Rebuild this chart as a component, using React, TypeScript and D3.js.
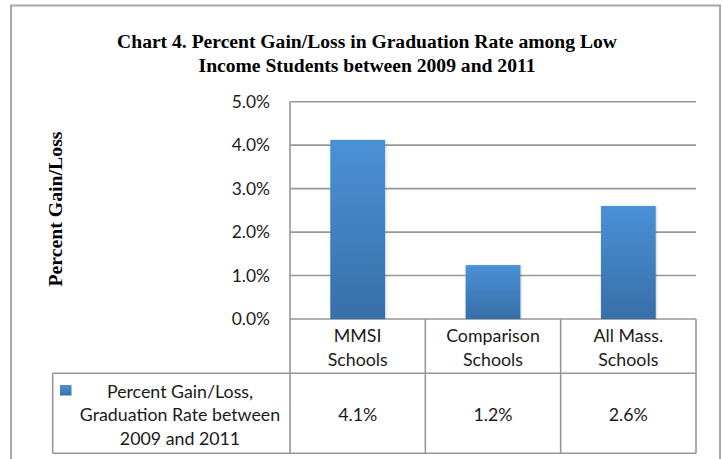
import React from "react";
import * as d3 from "d3";

const categories: string[][] = [
  ["MMSI", "Schools"],
  ["Comparison", "Schools"],
  ["All Mass.", "Schools"],
];
const values: number[] = [4.12, 1.24, 2.6];
const yTicks: number[] = [0, 1, 2, 3, 4, 5];
const titleLines: string[] = [
  "Chart 4. Percent Gain/Loss in Graduation Rate among Low",
  "Income Students between 2009 and 2011",
];
const yAxisTitle = "Percent Gain/Loss";
const legendLines: string[] = ["Percent Gain/Loss,", "Graduation Rate between", "2009 and 2011"];

const W = 723;
const H = 459;
const plotLeft = 290;
const plotRight = 696;
const plotTop = 101.7;
const plotBottom = 319;
const rowCatBottom = 373.3;
const tableBottom = 453.3;
const legendLeft = 52.7;

const SANS = "Lato, 'Open Sans', sans-serif";
const SERIF = "'Liberation Serif', 'DejaVu Serif', serif";

export default function App() {
  const x = d3.scaleBand<number>().domain(d3.range(categories.length)).range([plotLeft, plotRight]).paddingInner(0).paddingOuter(0);
  const y = d3.scaleLinear().domain([0, 5]).range([plotBottom, plotTop]);
  const barW = x.bandwidth() * 0.405;
  const tickFmt = d3.format(".1%");
  const gridColor = "#979797";
  const frameColor = "#a8a8a8";
  const textColor = "#1a1a1a";
  const fs = 17.8;

  return (
    <div style={{ position: "fixed", left: 0, top: 0, width: W, height: H, background: "#fff" }}>
      <svg width={W} height={H} style={{ display: "block" }}>
        <defs>
          <linearGradient id="barGrad" x1="0" y1="0" x2="0" y2="1">
            <stop offset="0%" stopColor="#4a91d7" />
            <stop offset="100%" stopColor="#386fa8" />
          </linearGradient>
          <filter id="shadow" x="-20%" y="-10%" width="140%" height="120%">
            <feDropShadow dx="1" dy="0" stdDeviation="1.2" floodColor="#000" floodOpacity="0.18" />
          </filter>
        </defs>
        <rect x={0} y={0} width={W} height={H} fill="#fff" />
        {/* outer frame */}
        <path d={`M11,${H + 2} L11,5.5 L720,5.5 L720,${H + 2}`} fill="none" stroke={frameColor} strokeWidth={2} />

        {/* title */}
        {titleLines.map((t, i) => (
          <text key={i} x={367} y={47.5 + i * 24.5} textAnchor="middle" fontFamily={SERIF} fontWeight="bold" fontSize={19.6} fill="#000">
            {t}
          </text>
        ))}

        {/* y axis title */}
        <text transform={`translate(61.5,209) rotate(-90)`} textAnchor="middle" fontFamily={SERIF} fontWeight="bold" fontSize={19.8} fill="#000">
          {yAxisTitle}
        </text>

        {/* gridlines */}
        {yTicks.map((t) => (
          <line key={t} x1={plotLeft} x2={plotRight} y1={y(t)} y2={y(t)} stroke={gridColor} strokeWidth={1.6} />
        ))}
        {/* y tick labels */}
        {yTicks.map((t) => (
          <text key={"l" + t} x={270} y={y(t)} dy="0.36em" textAnchor="end" fontFamily={SANS} fontSize={17.4} fill={textColor}>
            {tickFmt(t / 100)}
          </text>
        ))}

        {/* bars */}
        {values.map((v, i) => {
          const cx = (x(i) as number) + x.bandwidth() / 2;
          return (
            <rect key={i} x={cx - barW / 2} y={y(v)} width={barW} height={y(0) - y(v)} fill="url(#barGrad)" filter="url(#shadow)" />
          );
        })}

        {/* table lines */}
        <line x1={plotLeft} x2={plotLeft} y1={plotTop} y2={tableBottom} stroke={gridColor} strokeWidth={1.6} />
        {categories.map((_, i) => {
          const xr = (x(i) as number) + x.bandwidth();
          return <line key={"v" + i} x1={xr} x2={xr} y1={plotBottom} y2={tableBottom} stroke={gridColor} strokeWidth={1.6} />;
        })}
        <line x1={legendLeft} x2={plotRight} y1={rowCatBottom} y2={rowCatBottom} stroke={gridColor} strokeWidth={1.6} />
        <line x1={legendLeft} x2={plotRight} y1={tableBottom} y2={tableBottom} stroke={gridColor} strokeWidth={1.6} />
        <line x1={legendLeft} x2={legendLeft} y1={rowCatBottom} y2={tableBottom} stroke={gridColor} strokeWidth={1.6} />

        {/* category labels */}
        {categories.map((lines, i) => {
          const cx = (x(i) as number) + x.bandwidth() / 2;
          return lines.map((l, j) => (
            <text key={i + "-" + j} x={cx} y={336 + j * 24} dy="0.36em" textAnchor="middle" fontFamily={SANS} fontSize={fs} fill={textColor}>
              {l}
            </text>
          ));
        })}

        {/* legend */}
        <rect x={60} y={385} width={11.5} height={10.5} fill="url(#barGrad)" />
        {legendLines.map((l, j) => (
          <text key={"lg" + j} x={180} y={391.7 + j * 23.3} dy="0.36em" textAnchor="middle" fontFamily={SANS} fontSize={fs} fill={textColor}>
            {l}
          </text>
        ))}

        {/* values row */}
        {values.map((v, i) => {
          const cx = (x(i) as number) + x.bandwidth() / 2;
          return (
            <text key={"val" + i} x={cx} y={415} dy="0.36em" textAnchor="middle" fontFamily={SANS} fontSize={fs} fill={textColor}>
              {tickFmt(v / 100)}
            </text>
          );
        })}
      </svg>
    </div>
  );
}
